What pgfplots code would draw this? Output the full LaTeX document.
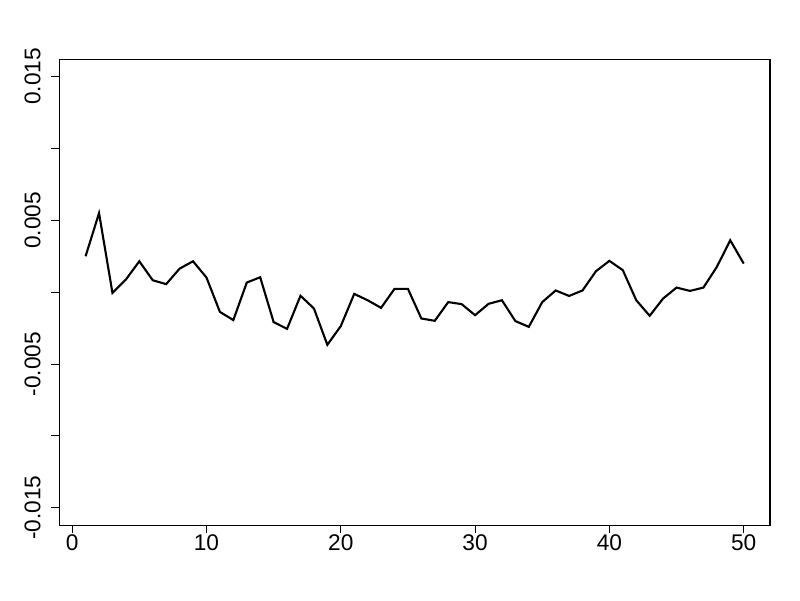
\documentclass[border=0pt]{standalone}
\usepackage{pgfplots}
\pgfplotsset{compat=1.18}
\usepackage{fontspec}
\setmainfont{Liberation Sans}
\begin{document}
\begin{tikzpicture}
 \begin{axis}[scale only axis,width=14.22cm,height=9.32cm,
  font=\fontsize{12.9}{15}\selectfont,
  xmin=-0.96,xmax=51.96,ymin=-0.0162,ymax=0.0162,
  axis line style={line width=0.6pt},
  tick style={line width=0.6pt,black},
  tick align=outside,major tick length=0.166cm,
  xtick pos=bottom,ytick pos=left,
  xtick={0,10,20,30,40,50},xticklabels={0,10,20,30,40,50},
  ytick={-0.015,-0.01,-0.005,0,0.005,0.01,0.015},
  yticklabels={{-0.015},{},{-0.005},{},{0.005},{},{0.015}},
  scaled y ticks=false,
  xticklabel style={anchor=north,inner sep=0pt,yshift=-0.01cm},
  yticklabel style={rotate=90,anchor=south,inner sep=0pt,yshift=0.2cm},
  clip=false]
  \addplot[black,line width=1.2pt] coordinates {
   (1,0.0025)(2,0.0055)(3,-0.00005)(4,0.00088)(5,0.00215)
   (6,0.00083)(7,0.00056)(8,0.00164)(9,0.00215)(10,0.00102)
   (11,-0.00137)(12,-0.00194)(13,0.00067)(14,0.00104)(15,-0.00208)
   (16,-0.00255)(17,-0.00025)(18,-0.00113)(19,-0.00366)(20,-0.00236)
   (21,-0.00012)(22,-0.00056)(23,-0.00109)(24,0.00023)(25,0.00023)
   (26,-0.00183)(27,-0.00199)(28,-0.00069)(29,-0.00083)(30,-0.0016)
   (31,-0.00081)(32,-0.00056)(33,-0.00201)(34,-0.00241)(35,-0.00069)
   (36,0.00012)(37,-0.00026)(38,0.00012)(39,0.00146)(40,0.00218)
   (41,0.00153)(42,-0.00056)(43,-0.00164)(44,-0.00044)(45,0.00032)
   (46,0.00009)(47,0.00032)(48,0.00176)(49,0.00361)(50,0.00199)};
 \end{axis}
 \path ([shift={(-1.186cm,-1.5cm)}]current axis.south west) rectangle ([shift={(0.6cm,1.186cm)}]current axis.north east);
\end{tikzpicture}
\end{document}
